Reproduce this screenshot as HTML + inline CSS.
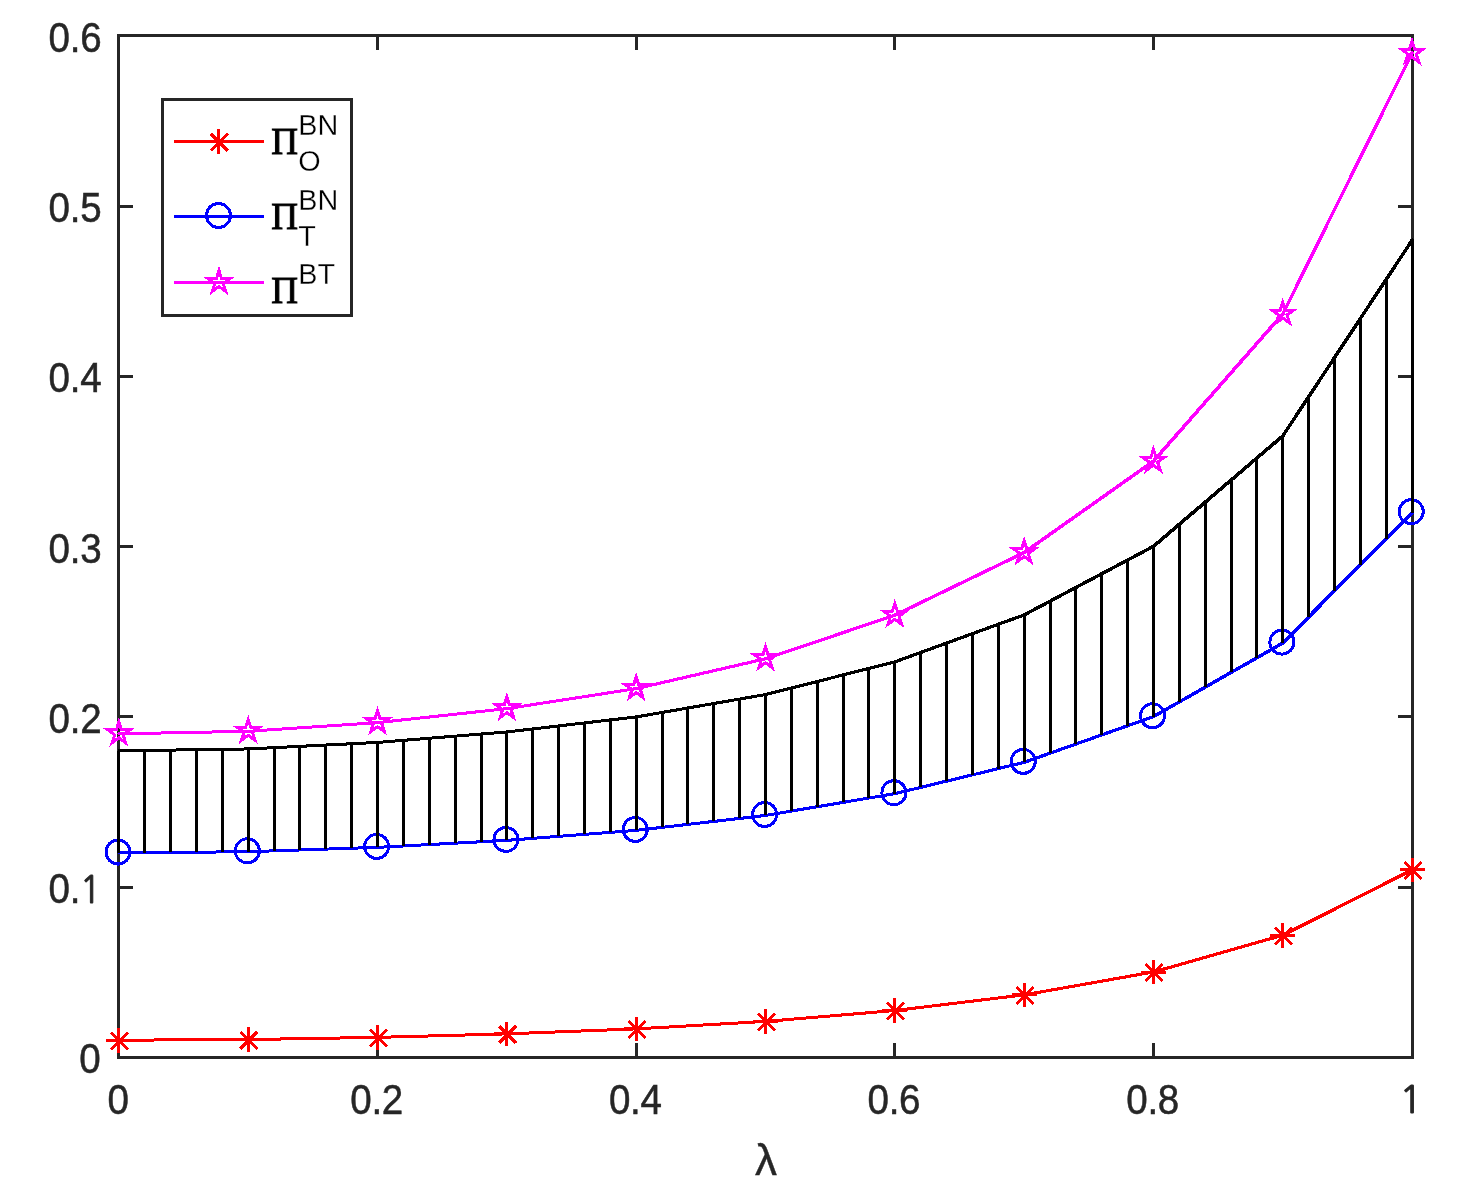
<!DOCTYPE html>
<html lang="en"><head><meta charset="utf-8"><title>Profit comparison plot</title>
<style>html,body{margin:0;padding:0;background:#fff}svg{display:block}text{font-family:"Liberation Sans",sans-serif;fill:#262626}.tk{font-size:40px;letter-spacing:-0.3px;stroke:#262626;stroke-width:0.5px}.pi{font-family:"Liberation Serif",serif;font-size:38.6px;fill:#000;stroke:#000;stroke-width:1px}.ss{font-size:28.8px;fill:#000;stroke:#fff;stroke-width:0.3px}</style></head><body>
<svg width="1465" height="1192" viewBox="0 0 1465 1192">
<rect width="1465" height="1192" fill="#fff"/>
<g shape-rendering="crispEdges" fill="none" stroke="#262626" stroke-width="3">
<rect x="118.5" y="35.5" width="1294.0" height="1022.0"/>
<path d="M377.54 1057.5v-14.5M377.54 35.5v14.5M636.18 1057.5v-14.5M636.18 35.5v14.5M894.82 1057.5v-14.5M894.82 35.5v14.5M1153.46 1057.5v-14.5M1153.46 35.5v14.5M118.5 887.00h14.5M1412.5 887.00h-14.5M118.5 716.80h14.5M1412.5 716.80h-14.5M118.5 546.60h14.5M1412.5 546.60h-14.5M118.5 376.40h14.5M1412.5 376.40h-14.5M118.5 206.20h14.5M1412.5 206.20h-14.5"/>
</g>
<g class="tk" text-anchor="end">
<text transform="translate(100.4 1073.2) scale(0.965 1.045)">0</text>
<text transform="translate(0 903.0) scale(0.965 1.045)"><tspan x="83.03" text-anchor="end">0.</tspan><tspan x="82.61" text-anchor="start" style="font-size:36.7px;font-family:NanumGothic,'Liberation Sans',sans-serif;letter-spacing:0;stroke:#262626;stroke-width:1px">1</tspan></text>
<text transform="translate(101.4 732.8) scale(0.965 1.045)">0.2</text>
<text transform="translate(101.4 562.6) scale(0.965 1.045)">0.3</text>
<text transform="translate(101.4 392.4) scale(0.965 1.045)">0.4</text>
<text transform="translate(101.4 222.2) scale(0.965 1.045)">0.5</text>
<text transform="translate(101.4 52.0) scale(0.965 1.045)">0.6</text>
</g>
<g class="tk" text-anchor="middle">
<text transform="translate(118.0 1114) scale(0.965 1.045)">0</text>
<text transform="translate(376.6 1114) scale(0.965 1.045)">0.2</text>
<text transform="translate(635.3 1114) scale(0.965 1.045)">0.4</text>
<text transform="translate(893.9 1114) scale(0.965 1.045)">0.6</text>
<text transform="translate(1152.6 1114) scale(0.965 1.045)">0.8</text>
<text x="1399.2" y="1113.3" text-anchor="start" style="font-size:38.4px;font-family:NanumGothic,'Liberation Sans',sans-serif;letter-spacing:0;stroke:#262626;stroke-width:1px">1</text>
</g>
<text x="766" y="1175" text-anchor="middle" font-size="44" stroke="#262626" stroke-width="0.4">λ</text>
<clipPath id="ax"><rect x="117" y="34" width="1297" height="1025"/></clipPath>
<g shape-rendering="crispEdges" fill="none" stroke-linecap="round" clip-path="url(#ax)">
<g stroke="#f00"><line x1="118.90" y1="1040.18" x2="248.22" y2="1039.55" stroke-width="3.00"/><line x1="248.22" y1="1039.55" x2="377.54" y2="1037.38" stroke-width="3.00"/><line x1="377.54" y1="1037.38" x2="506.86" y2="1033.88" stroke-width="3.00"/><line x1="506.86" y1="1033.88" x2="636.18" y2="1028.88" stroke-width="3.00"/><line x1="636.18" y1="1028.88" x2="765.50" y2="1021.42" stroke-width="3.01"/><line x1="765.50" y1="1021.42" x2="894.82" y2="1010.53" stroke-width="3.02"/><line x1="894.82" y1="1010.53" x2="1024.14" y2="994.87" stroke-width="3.03"/><line x1="1024.14" y1="994.87" x2="1153.46" y2="972.01" stroke-width="3.07"/><line x1="1153.46" y1="972.01" x2="1282.78" y2="935.22" stroke-width="3.17"/><line x1="1282.78" y1="935.22" x2="1412.10" y2="869.98" stroke-width="3.39"/></g>
<g stroke="#00f"><line x1="118.90" y1="852.96" x2="248.22" y2="851.70" stroke-width="3.00"/><line x1="248.22" y1="851.70" x2="377.54" y2="847.36" stroke-width="3.00"/><line x1="377.54" y1="847.36" x2="506.86" y2="840.37" stroke-width="3.01"/><line x1="506.86" y1="840.37" x2="636.18" y2="830.36" stroke-width="3.01"/><line x1="636.18" y1="830.36" x2="765.50" y2="815.45" stroke-width="3.03"/><line x1="765.50" y1="815.45" x2="894.82" y2="793.66" stroke-width="3.06"/><line x1="894.82" y1="793.66" x2="1024.14" y2="762.35" stroke-width="3.13"/><line x1="1024.14" y1="762.35" x2="1153.46" y2="716.63" stroke-width="3.24"/><line x1="1153.46" y1="716.63" x2="1282.78" y2="643.04" stroke-width="3.44"/><line x1="1282.78" y1="643.04" x2="1412.10" y2="512.56" stroke-width="3.60"/></g>
<g stroke="#f0f"><line x1="118.90" y1="733.82" x2="248.22" y2="731.30" stroke-width="3.00"/><line x1="248.22" y1="731.30" x2="377.54" y2="722.62" stroke-width="3.01"/><line x1="377.54" y1="722.62" x2="506.86" y2="708.63" stroke-width="3.03"/><line x1="506.86" y1="708.63" x2="636.18" y2="688.61" stroke-width="3.05"/><line x1="636.18" y1="688.61" x2="765.50" y2="658.80" stroke-width="3.12"/><line x1="765.50" y1="658.80" x2="894.82" y2="615.22" stroke-width="3.22"/><line x1="894.82" y1="615.22" x2="1024.14" y2="552.59" stroke-width="3.37"/><line x1="1024.14" y1="552.59" x2="1153.46" y2="461.16" stroke-width="3.53"/><line x1="1153.46" y1="461.16" x2="1282.78" y2="313.97" stroke-width="3.59"/><line x1="1282.78" y1="313.97" x2="1412.10" y2="53.02" stroke-width="3.38"/></g>
</g>
<g shape-rendering="crispEdges" fill="none" stroke-width="3">
<path stroke="#f00" d="M118.90 1027.98V1052.58M106.40 1040.18H131.30M111.11 1032.29L128.09 1049.27M111.11 1049.27L128.09 1032.29M248.22 1027.35V1051.95M235.72 1039.55H260.62M240.43 1031.66L257.41 1048.64M240.43 1048.64L257.41 1031.66M377.54 1025.18V1049.78M365.04 1037.38H389.94M369.75 1029.49L386.73 1046.47M369.75 1046.47L386.73 1029.49M506.86 1021.68V1046.28M494.36 1033.88H519.26M499.07 1026.00L516.05 1042.97M499.07 1042.97L516.05 1026.00M636.18 1016.68V1041.28M623.68 1028.88H648.58M628.39 1020.99L645.37 1037.96M628.39 1037.96L645.37 1020.99M765.50 1009.22V1033.82M753.00 1021.42H777.90M757.71 1013.54L774.69 1030.51M757.71 1030.51L774.69 1013.54M894.82 998.33V1022.93M882.32 1010.53H907.22M887.03 1002.65L904.01 1019.62M887.03 1019.62L904.01 1002.65M1024.14 982.67V1007.27M1011.64 994.87H1036.54M1016.35 986.99L1033.33 1003.96M1016.35 1003.96L1033.33 986.99M1153.46 959.81V984.41M1140.96 972.01H1165.86M1145.67 964.13L1162.65 981.10M1145.67 981.10L1162.65 964.13M1282.78 923.02V947.62M1270.28 935.22H1295.18M1274.99 927.33L1291.97 944.30M1274.99 944.30L1291.97 927.33M1412.10 857.78V882.38M1399.60 869.98H1424.50M1404.31 862.09L1421.29 879.07M1404.31 879.07L1421.29 862.09"/>
<g stroke="#00f"><circle cx="118.00" cy="852.06" r="12"/><circle cx="247.32" cy="850.80" r="12"/><circle cx="376.64" cy="846.46" r="12"/><circle cx="505.96" cy="839.47" r="12"/><circle cx="635.28" cy="829.46" r="12"/><circle cx="764.60" cy="814.55" r="12"/><circle cx="893.92" cy="792.76" r="12"/><circle cx="1023.24" cy="761.45" r="12"/><circle cx="1152.56" cy="715.73" r="12"/><circle cx="1281.88" cy="642.14" r="12"/><circle cx="1411.20" cy="511.66" r="12"/></g>
<g stroke="#f0f" stroke-miterlimit="4"><polygon points="118.90,721.97 121.48,729.92 129.84,729.92 123.08,734.83 125.66,742.77 118.90,737.86 112.14,742.77 114.72,734.83 107.96,729.92 116.32,729.92"/><polygon points="248.22,719.45 250.80,727.40 259.16,727.40 252.40,732.31 254.98,740.25 248.22,735.34 241.46,740.25 244.04,732.31 237.28,727.40 245.64,727.40"/><polygon points="377.54,710.77 380.12,718.72 388.48,718.72 381.72,723.63 384.30,731.57 377.54,726.66 370.78,731.57 373.36,723.63 366.60,718.72 374.96,718.72"/><polygon points="506.86,696.78 509.44,704.73 517.80,704.73 511.04,709.64 513.62,717.58 506.86,712.67 500.10,717.58 502.68,709.64 495.92,704.73 504.28,704.73"/><polygon points="636.18,676.76 638.76,684.71 647.12,684.71 640.36,689.62 642.94,697.57 636.18,692.66 629.42,697.57 632.00,689.62 625.24,684.71 633.60,684.71"/><polygon points="765.50,646.95 768.08,654.89 776.44,654.89 769.68,659.80 772.26,667.75 765.50,662.84 758.74,667.75 761.32,659.80 754.56,654.89 762.92,654.89"/><polygon points="894.82,603.37 897.40,611.32 905.76,611.32 899.00,616.23 901.58,624.18 894.82,619.27 888.06,624.18 890.64,616.23 883.88,611.32 892.24,611.32"/><polygon points="1024.14,540.74 1026.72,548.69 1035.08,548.69 1028.32,553.60 1030.90,561.54 1024.14,556.63 1017.38,561.54 1019.96,553.60 1013.20,548.69 1021.56,548.69"/><polygon points="1153.46,449.31 1156.04,457.26 1164.40,457.26 1157.64,462.17 1160.22,470.11 1153.46,465.20 1146.70,470.11 1149.28,462.17 1142.52,457.26 1150.88,457.26"/><polygon points="1282.78,302.12 1285.36,310.07 1293.72,310.07 1286.96,314.98 1289.54,322.92 1282.78,318.01 1276.02,322.92 1278.60,314.98 1271.84,310.07 1280.20,310.07"/><polygon points="1412.10,41.17 1414.68,49.12 1423.04,49.12 1416.28,54.03 1418.86,61.97 1412.10,57.06 1405.34,61.97 1407.92,54.03 1401.16,49.12 1409.52,49.12"/></g>
<path stroke="#000" d="M118.90 750.84V852.96M144.76 750.46V852.71M170.63 750.08V852.46M196.49 749.71V852.20M222.36 749.33V851.95M248.22 748.95V851.70M274.08 747.65V850.83M299.95 746.35V849.96M325.81 745.04V849.10M351.68 743.74V848.23M377.54 742.44V847.36M403.40 740.34V845.96M429.27 738.24V844.56M455.13 736.14V843.16M481.00 734.05V841.76M506.86 731.95V840.37M532.72 728.95V838.36M558.59 725.94V836.36M584.45 722.94V834.36M610.32 719.94V832.36M636.18 716.94V830.36M662.04 712.46V827.38M687.91 707.99V824.39M713.77 703.52V821.41M739.64 699.04V818.43M765.50 694.57V815.45M791.36 688.04V811.09M817.23 681.50V806.73M843.09 674.96V802.38M868.96 668.43V798.02M894.82 661.89V793.66M920.68 652.50V787.40M946.55 643.10V781.14M972.41 633.71V774.87M998.28 624.31V768.61M1024.14 614.92V762.35M1050.00 601.20V753.20M1075.87 587.49V744.06M1101.73 573.77V734.92M1127.60 560.06V725.77M1153.46 546.34V716.63M1179.32 524.27V701.91M1205.19 502.19V687.19M1231.05 480.11V672.47M1256.92 458.03V657.75M1282.78 435.95V643.04M1308.64 396.81V616.94M1334.51 357.67V590.85M1360.37 318.53V564.75M1386.24 279.38V538.66M1412.10 240.24V512.56"/>
</g>
<g shape-rendering="crispEdges" fill="none" stroke-linecap="round" clip-path="url(#ax)">
<g stroke="#000"><line x1="118.90" y1="750.84" x2="248.22" y2="748.95" stroke-width="3.00"/><line x1="248.22" y1="748.95" x2="377.54" y2="742.44" stroke-width="3.01"/><line x1="377.54" y1="742.44" x2="506.86" y2="731.95" stroke-width="3.02"/><line x1="506.86" y1="731.95" x2="636.18" y2="716.94" stroke-width="3.03"/><line x1="636.18" y1="716.94" x2="765.50" y2="694.57" stroke-width="3.07"/><line x1="765.50" y1="694.57" x2="894.82" y2="661.89" stroke-width="3.14"/><line x1="894.82" y1="661.89" x2="1024.14" y2="614.92" stroke-width="3.25"/><line x1="1024.14" y1="614.92" x2="1153.46" y2="546.34" stroke-width="3.41"/><line x1="1153.46" y1="546.34" x2="1282.78" y2="435.95" stroke-width="3.59"/><line x1="1282.78" y1="435.95" x2="1412.10" y2="240.24" stroke-width="3.51"/></g>
</g>
<g shape-rendering="crispEdges" fill="none" stroke-width="3">
<rect x="162.5" y="99.5" width="189" height="216" fill="#fff" stroke="#262626"/>
<path stroke="#f00" d="M174 141.5H264M218.50 129.30V153.90M206.00 141.50H230.90M210.71 133.61L227.69 150.59M210.71 150.59L227.69 133.61"/>
<path stroke="#00f" d="M174 216.5H264"/><circle stroke="#00f" cx="218.5" cy="215.5" r="12"/>
<path stroke="#f0f" d="M174 282.5H264"/><polygon stroke="#f0f" points="219.00,270.65 221.58,278.60 229.94,278.60 223.18,283.51 225.76,291.45 219.00,286.54 212.24,291.45 214.82,283.51 208.06,278.60 216.42,278.60"/>
</g>
<text class="pi" transform="translate(271.35 154.1) scale(0.96 1)">Π</text><text class="ss" x="298.3" y="135">BN</text><text class="ss" x="298.3" y="170.6">O</text>
<text class="pi" transform="translate(271.35 229.1) scale(0.96 1)">Π</text><text class="ss" x="298.3" y="210">BN</text><text class="ss" x="298.3" y="246">T</text>
<text class="pi" transform="translate(271.35 303.1) scale(0.96 1)">Π</text><text class="ss" x="298.3" y="284">BT</text>
</svg></body></html>
